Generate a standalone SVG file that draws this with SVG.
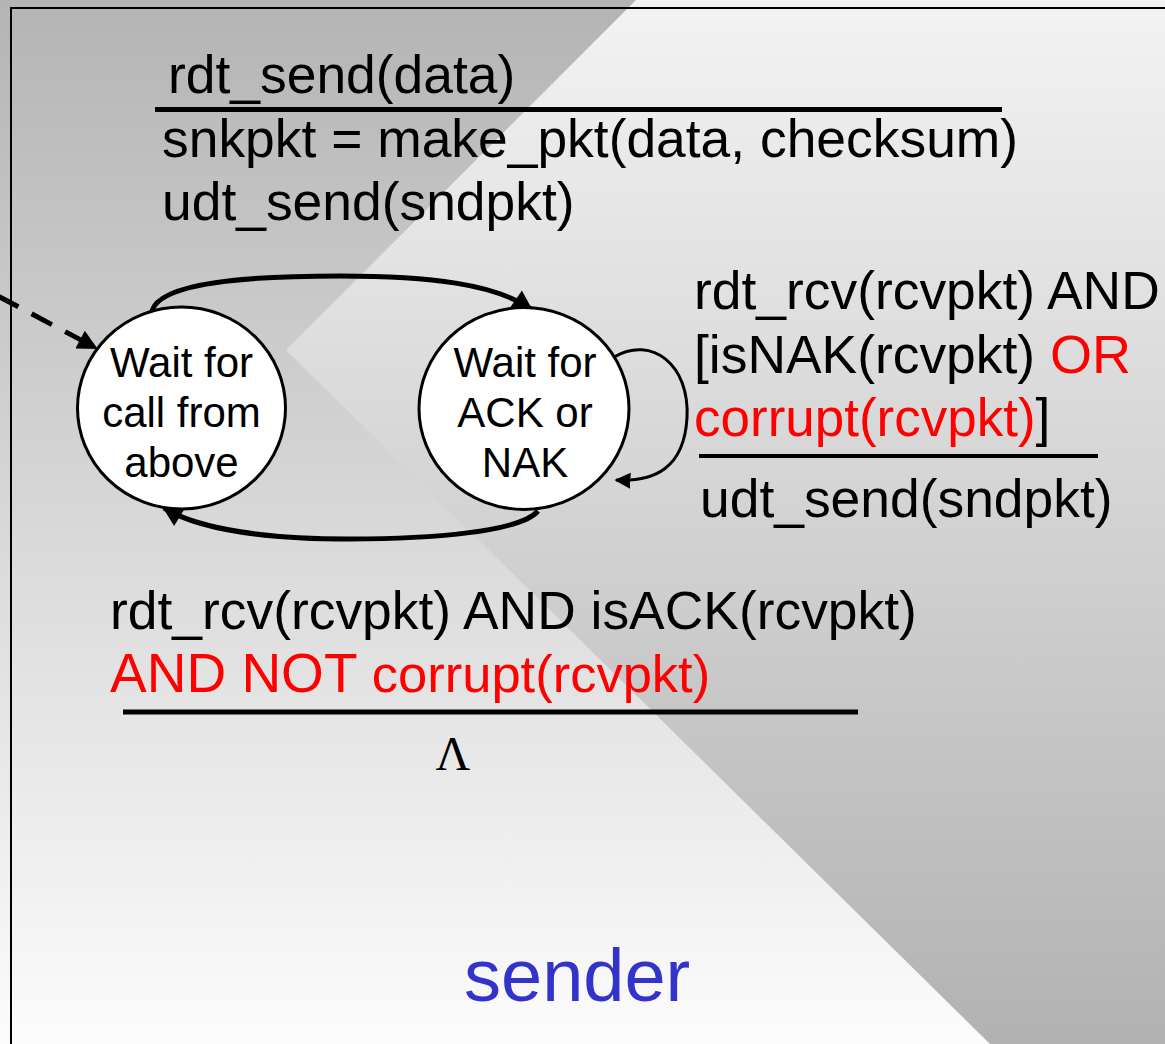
<svg xmlns="http://www.w3.org/2000/svg" width="1165" height="1044" viewBox="0 0 1165 1044">
<defs>
<linearGradient id="gl" x1="0" y1="0" x2="0" y2="1044" gradientUnits="userSpaceOnUse"><stop offset="0" stop-color="#b4b4b4"/><stop offset="1" stop-color="#fcfcfc"/></linearGradient>
<linearGradient id="gr" x1="0" y1="0" x2="0" y2="1044" gradientUnits="userSpaceOnUse"><stop offset="0" stop-color="#f3f3f3"/><stop offset="1" stop-color="#b2b2b2"/></linearGradient>
<marker id="ah" viewBox="0 0 10 10" refX="9" refY="5" markerWidth="24" markerHeight="20" markerUnits="userSpaceOnUse" orient="auto"><path d="M0,0 L10,5 L0,10 z" fill="#000"/></marker>
<marker id="ahs" viewBox="0 0 10 10" refX="9" refY="5" markerWidth="16" markerHeight="20" markerUnits="userSpaceOnUse" orient="auto"><path d="M0,0 L10,5 L0,10 z" fill="#000"/></marker>
<style>
.t{font-family:"Liberation Sans",Arial,sans-serif;font-size:53.4px;fill:#000}
.n{font-family:"Liberation Sans",Arial,sans-serif;font-size:42px;fill:#000;text-anchor:middle}
.red{fill:#ff0000}
.bar{stroke:#000;stroke-width:5;fill:none}
.arc{stroke:#000;stroke-width:5;fill:none}
.st{fill:#fff;stroke:#000;stroke-width:3}
</style>
</defs>
<g id="background">
<rect x="0" y="0" width="1165" height="1044" fill="url(#gl)"/>
<polygon points="636,0 1165,0 1165,1044 990,1044 286,350" fill="url(#gr)"/>
<rect x="11" y="8" width="1170" height="1060" fill="none" stroke="#000" stroke-width="2"/>
</g>
<g id="labels">
<text class="t" x="168" y="93">rdt_send(data)</text>
<line class="bar" x1="155" y1="109.5" x2="1002" y2="109.5"/>
<text class="t" x="162" y="157">snkpkt = make_pkt(data, checksum)</text>
<text class="t" x="162" y="220">udt_send(sndpkt)</text>
<text class="t" x="694" y="309">rdt_rcv(rcvpkt) AND</text>
<text class="t" x="694" y="373">[isNAK(rcvpkt) <tspan class="red" style="font-size:54px">OR</tspan></text>
<text class="t" x="694" y="436"><tspan class="red" style="font-size:53px">corrupt(rcvpkt)</tspan>]</text>
<line class="bar" x1="699" y1="456" x2="1098" y2="456" style="stroke-width:4"/>
<text class="t" x="700" y="517">udt_send(sndpkt)</text>
<text class="t" x="110" y="629">rdt_rcv(rcvpkt) AND isACK(rcvpkt)</text>
<text class="t red" x="110" y="692" style="font-size:55px">AND NOT <tspan style="font-size:52.5px">corrupt(rcvpkt)</tspan></text>
<line class="bar" x1="123" y1="712" x2="858" y2="712"/>
<text x="453" y="770" style="font-family:'Liberation Serif','Times New Roman',serif;font-size:48px;text-anchor:middle">Λ</text>
<text x="464" y="1001" style="font-family:'Liberation Sans',Arial,sans-serif;font-size:74px;fill:#3333cc">sender</text>
</g>
<g id="connectors">
<path class="arc" d="M152,311 C160,282 250,276 340,276 C430,276 495,284 531,309" marker-end="url(#ah)"/>
<path class="arc" d="M538,511 C520,532 430,539 350,539 C270,539 200,530 164,508" marker-end="url(#ah)"/>
<path class="arc" d="M614,357 C652,335 690,365 687,418 C684,468 655,482 616,480" style="stroke-width:3" marker-end="url(#ahs)"/>
<path class="arc" d="M-2,296 L96,348" style="stroke-dasharray:23 15" marker-end="url(#ah)"/>
</g>
<g id="state-wait-call">
<ellipse class="st" cx="181.5" cy="408" rx="104" ry="101"/>
<text class="n" x="181.5" y="377">Wait for</text>
<text class="n" x="181.5" y="427">call from</text>
<text class="n" x="181.5" y="477">above</text>
</g>
<g id="state-wait-ack">
<ellipse class="st" cx="524" cy="408.5" rx="105" ry="101"/>
<text class="n" x="525" y="377">Wait for</text>
<text class="n" x="525" y="427">ACK or</text>
<text class="n" x="525" y="477">NAK</text>
</g>
</svg>
